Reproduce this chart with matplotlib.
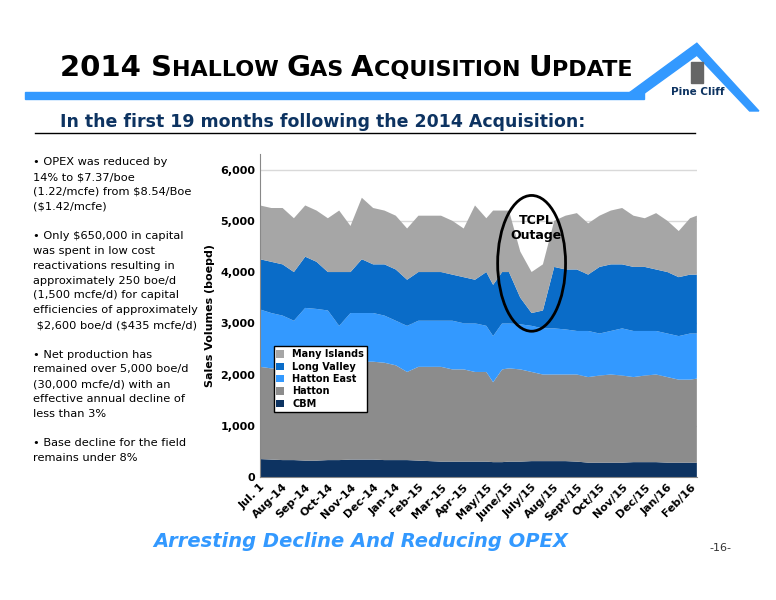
import matplotlib
matplotlib.use("Agg")
import matplotlib.pyplot as plt
import numpy as np
from matplotlib.patches import Ellipse, Polygon, Rectangle
from matplotlib.lines import Line2D

months = [0,0.5,1,1.5,2,2.5,3,3.5,4,4.5,5,5.5,6,6.5,7,7.5,8,8.5,9,9.5,10,10.3,10.7,11,11.5,12,12.5,13,13.5,14,14.5,15,15.5,16,16.5,17,17.5,18,18.5,19,19.3]
# cumulative tops of each stacked layer (boepd)
cbm_top = [350,340,330,330,320,320,330,330,340,340,340,330,330,330,320,310,300,300,300,300,300,290,290,300,300,310,310,310,310,300,280,280,280,280,290,290,290,280,280,280,280]
hatton_top = [2150,2120,2120,2100,2150,2120,2100,2100,2200,2250,2250,2230,2180,2050,2150,2150,2150,2100,2100,2050,2050,1850,2100,2120,2100,2050,2000,2000,2000,2000,1950,1980,2000,1980,1950,1980,2000,1950,1900,1900,1920]
hatton_east_top = [3270,3200,3150,3050,3300,3280,3250,2950,3200,3200,3200,3150,3050,2950,3050,3050,3050,3050,3000,3000,2950,2750,3000,3000,2980,2950,2900,2900,2880,2850,2850,2800,2850,2900,2850,2850,2850,2800,2750,2800,2800]
long_valley_top = [4250,4200,4150,4000,4300,4200,4000,4000,4000,4250,4150,4150,4050,3850,4000,4000,4000,3950,3900,3850,4000,3750,4000,4000,3500,3200,3250,4100,4050,4050,3950,4100,4150,4150,4100,4100,4050,4000,3900,3950,3950]
many_islands_top = [5300,5250,5250,5050,5300,5200,5050,5200,4900,5450,5250,5200,5100,4850,5100,5100,5100,5000,4850,5300,5050,5200,5200,5200,4400,4000,4150,5000,5100,5150,4950,5100,5200,5250,5100,5050,5150,5000,4800,5050,5100]
tick_labels = ["Jul. 1","Aug-14","Sep-14","Oct-14","Nov-14","Dec-14","Jan-14","Feb-15","Mar-15","Apr-15","May/15","June/15","July/15","Aug/15","Sept/15","Oct/15","Nov/15","Dec/15","Jan/16","Feb/16"]
series_names = ["CBM","Hatton","Hatton East","Long Valley","Many Islands"]
colors = ["#0d3361","#8c8c8c","#3399ff","#0a6cc8","#a6a6a6"]

tops = np.array([cbm_top,hatton_top,hatton_east_top,long_valley_top,many_islands_top])
layers = np.diff(np.vstack([np.zeros(len(months)),tops]),axis=0)

fig = plt.figure(figsize=(7.76,6.0),dpi=100)
fig.patch.set_facecolor("white")
renderer = fig.canvas.get_renderer()

pieces = [("2014 S",21),("HALLOW ",16),("G",21),("AS ",16),("A",21),("CQUISITION ",16),("U",21),("PDATE",16)]
x = 0.077
for txt, fs in pieces:
    t = fig.text(x,0.873,txt,fontsize=fs,fontweight="bold",family="DejaVu Sans",va="baseline")
    bb = t.get_window_extent(renderer=renderer)
    x += bb.width/fig.bbox.width
bar = Polygon([[0.032,0.835],[0.83,0.835],[0.83,0.847],[0.032,0.847]],closed=True,transform=fig.transFigure,color="#3399ff")
fig.patches.append(bar)
roof = Polygon([[0.80,0.835],[0.898,0.928],[0.978,0.815],[0.966,0.815],[0.898,0.908],[0.82,0.835]],closed=True,
               transform=fig.transFigure,color="#3399ff")
fig.patches.append(roof)
fig.text(0.899,0.838,"Pine Cliff",fontsize=7.5,fontweight="bold",color="#0d3361",ha="center",va="bottom")
fig.patches.append(Rectangle((0.89,0.862),0.016,0.035,transform=fig.transFigure,color="#666666"))
fig.text(0.077,0.797,"In the first 19 months following the 2014 Acquisition:",fontsize=12.5,fontweight="bold",
         color="#0d3361",va="center")
fig.lines.append(Line2D([0.045,0.895],[0.778,0.778],transform=fig.transFigure,color="black",lw=1))

bullets = ("• OPEX was reduced by\n14% to \\$7.37/boe\n(1.22/mcfe) from \\$8.54/Boe\n(\\$1.42/mcfe)\n\n"
           "• Only \\$650,000 in capital\nwas spent in low cost\nreactivations resulting in\napproximately 250 boe/d\n"
           "(1,500 mcfe/d) for capital\nefficiencies of approximately\n \\$2,600 boe/d (\\$435 mcfe/d)\n\n"
           "• Net production has\nremained over 5,000 boe/d\n(30,000 mcfe/d) with an\neffective annual decline of\nless than 3%\n\n"
           "• Base decline for the field\nremains under 8%")
fig.text(0.042,0.738,bullets,fontsize=8.2,va="top",linespacing=1.6)

fig.text(0.465,0.098,"Arresting Decline And Reducing OPEX",fontsize=14,fontweight="bold",style="italic",
         color="#3399ff",ha="center",va="center")
fig.text(0.928,0.087,"-16-",fontsize=8,ha="center",va="center",color="#333333")

ax = fig.add_axes([0.335,0.205,0.563,0.538])
ax.set_axisbelow(True)
ax.yaxis.grid(True,color="#d9d9d9",lw=1)
ax.stackplot(months,layers,colors=colors,labels=series_names,linewidth=0,zorder=2)
ax.set_xlim(0,19.3)
ax.set_ylim(0,6300)
ax.set_yticks([0,1000,2000,3000,4000,5000,6000])
ax.set_yticklabels(["0","1,000","2,000","3,000","4,000","5,000","6,000"],fontsize=8,fontweight="bold")
ax.set_xticks(range(20))
ax.set_xticklabels(tick_labels,rotation=45,ha="right",rotation_mode="anchor",fontsize=8,fontweight="bold")
ax.tick_params(length=0)
for s in ["top","right"]:
    ax.spines[s].set_visible(False)
ax.spines["left"].set_color("#888888")
ax.spines["bottom"].set_color("#888888")
ax.set_ylabel("Sales Volumes (boepd)",fontsize=8,fontweight="bold")
ax.add_patch(Ellipse((12.0,4170),3.0,2650,fill=False,lw=2,color="black",zorder=5))
ax.text(12.2,4850,"TCPL\nOutage",fontsize=9,fontweight="bold",ha="center",va="center",zorder=6)
h,l = ax.get_legend_handles_labels()
leg = ax.legend(h[::-1],l[::-1],loc="upper left",bbox_to_anchor=(0.02,0.42),fontsize=7,frameon=True,
                fancybox=False,handlelength=0.8,handleheight=0.8,labelspacing=0.25,borderpad=0.3,framealpha=1)
leg.get_frame().set_edgecolor("black")
leg.set_zorder(7)
for t in leg.get_texts():
    t.set_fontweight("bold")
fig.savefig("out.png",dpi=100)
